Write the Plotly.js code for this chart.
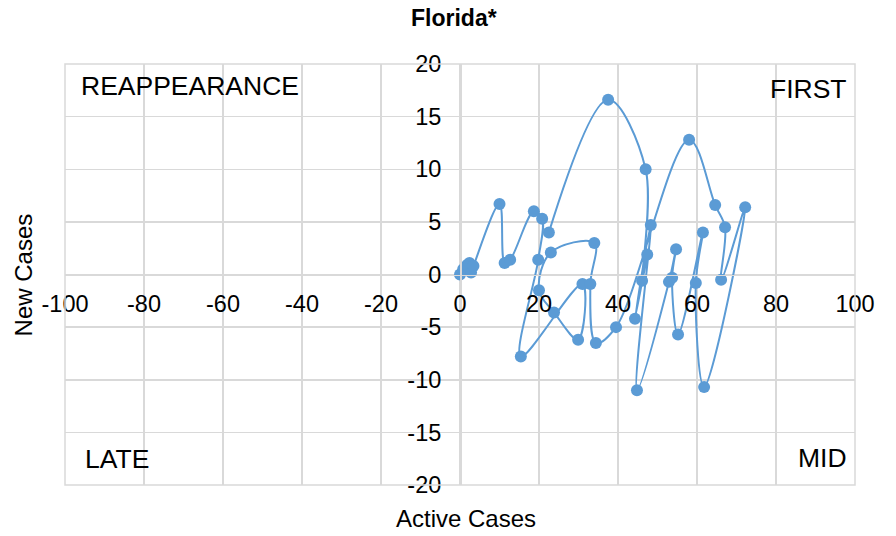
<!DOCTYPE html>
<html>
<head>
<meta charset="utf-8">
<script src="https://cdn.plot.ly/plotly-3.0.1.min.js"></script>
<style>
  body { margin: 0; background: white; }
  #florida { width: 896px; height: 536px; }
</style>
</head>
<body>
<div id="florida"></div>
<script>
// Active cases (x) and new cases (y), in drawing order
var activeCases = [0, 0.8, 1.8, 2.4, 2.8, 3.4, 10, 11.3, 12.7, 18.7, 20.8, 19.8, 15.4, 31, 29.9, 23.8, 20,
  23, 34, 33, 34.4, 39.5, 58, 64.6, 67.1, 66.1, 72.2, 61.8, 59.7, 61.5, 55.2, 53.7, 54.7, 52.9,
  44.8, 48.3, 44.3, 47.4, 46.1, 47, 37.5, 22.5];
var newCases = [0, 0.5, 0.9, 1.1, 0.2, 0.8, 6.7, 1.1, 1.4, 6.0, 5.3, 1.4, -7.8, -0.9, -6.2, -3.6, -1.5,
  2.1, 3.0, -0.9, -6.5, -5.0, 12.8, 6.6, 4.5, -0.5, 6.4, -10.7, -0.8, 4.0, -5.7, -0.3, 2.4, -0.7,
  -11.0, 4.7, -4.2, 1.9, -0.6, 10.0, 16.6, 4.0];

var xTicks = [-100, -80, -60, -40, -20, 0, 20, 40, 60, 80, 100];
var xTickText = ['-100', '-80', '-60', '-40', '-20', '0', '20', '40', '60', '80', '100'];
var yTicks = [-20, -15, -10, -5, 0, 5, 10, 15, 20];
var yTickText = ['-20', '-15', '-10', '-5', '0', '5', '10', '15', '20'];

var trace = {
  x: activeCases,
  y: newCases,
  type: 'scatter',
  mode: 'lines+markers',
  line: { color: '#5B9BD5', width: 2, shape: 'spline', smoothing: 1 },
  marker: { color: '#5B9BD5', size: 12 },
  hoverinfo: 'skip'
};

var labelFont = { family: 'Liberation Sans, Arial, sans-serif', size: 26.5, color: '#000' };

var layout = {
  width: 896,
  height: 536,
  margin: { l: 65, r: 41, t: 64, b: 51 },
  paper_bgcolor: 'white',
  plot_bgcolor: 'white',
  showlegend: false,
  font: { family: 'Liberation Sans, Arial, sans-serif', color: '#000' },
  xaxis: {
    range: [-100, 100],
    tickvals: xTicks,
    ticktext: xTickText,
    ticks: '',
    anchor: 'free',
    position: 0.5,
    showgrid: true,
    gridcolor: '#D9D9D9',
    gridwidth: 1.5,
    zeroline: false,
    showline: true,
    linecolor: '#D9D9D9',
    linewidth: 1.5,
    ticklabelstandoff: 8,
    tickfont: { size: 23.5, color: '#000' }
  },
  yaxis: {
    range: [-20, 20],
    tickvals: yTicks,
    ticktext: yTickText,
    ticks: '',
    anchor: 'free',
    position: 0.5,
    showgrid: true,
    gridcolor: '#D9D9D9',
    gridwidth: 1.5,
    zeroline: false,
    showline: true,
    linecolor: '#D9D9D9',
    linewidth: 1.5,
    ticklabelstandoff: 14,
    tickfont: { size: 23.5, color: '#000' }
  },
  shapes: [
    { type: 'rect', xref: 'paper', yref: 'paper', x0: 0, x1: 1, y0: 0, y1: 1,
      line: { color: '#D9D9D9', width: 1.5 } }
  ],
  annotations: [
    { text: '<b>Florida*</b>', xref: 'paper', yref: 'paper', x: 0.492, y: 1.11, yanchor: 'middle',
      showarrow: false, font: { size: 23 } },
    { text: 'REAPPEARANCE', xref: 'paper', yref: 'paper', x: 0.018, y: 0.948, xanchor: 'left',
      yanchor: 'middle', showarrow: false, font: labelFont },
    { text: 'FIRST', xref: 'paper', yref: 'paper', x: 0.992, y: 0.941, xanchor: 'right',
      yanchor: 'middle', showarrow: false, font: labelFont },
    { text: 'LATE', xref: 'paper', yref: 'paper', x: 0.023, y: 0.062, xanchor: 'left',
      yanchor: 'middle', showarrow: false, font: labelFont },
    { text: 'MID', xref: 'paper', yref: 'paper', x: 0.992, y: 0.064, xanchor: 'right',
      yanchor: 'middle', showarrow: false, font: labelFont },
    { text: 'Active Cases', xref: 'paper', yref: 'paper', x: 0.507, y: -0.079, yanchor: 'middle',
      showarrow: false, font: { size: 24 } },
    { text: 'New Cases', xref: 'paper', yref: 'paper', x: -0.052, y: 0.5, textangle: -90,
      xanchor: 'center', yanchor: 'middle', showarrow: false, font: { size: 24 } }
  ]
};

Plotly.newPlot('florida', [trace], layout, { staticPlot: true });
</script>
</body>
</html>
